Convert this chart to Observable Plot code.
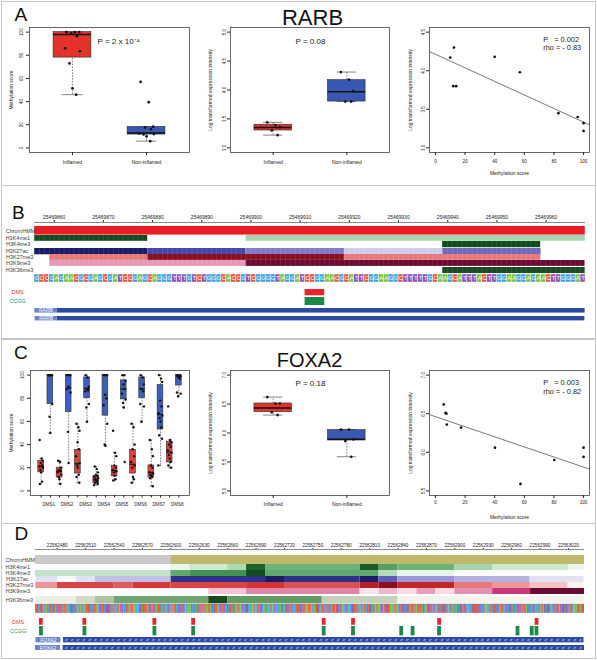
<!DOCTYPE html>
<html>
<head>
<meta charset="utf-8">
<script src="https://cdn.jsdelivr.net/npm/d3@7"></script>
<script src="https://cdn.jsdelivr.net/npm/@observablehq/plot@0.6"></script>
<style>
  html, body { margin: 0; padding: 0; background: #fff; }
  #fig { position: relative; width: 597px; height: 660px; overflow: hidden; background: #fff;
         font-family: "Liberation Sans", Arial, Helvetica, sans-serif; }
  .abs { position: absolute; }
  .abs svg { display: block; max-width: none !important; overflow: visible; }
  .abs svg text { white-space: pre; }
  .hl { position: absolute; background: #c6c6c6; }
  .letter { position: absolute; font-size: 19px; line-height: 19px; color: #111; }
</style>
</head>
<body>
<div id="fig"></div>
<script>
// ======================= DATA =======================
// ---- Panel A : RARB ----
const methGroups = ["Inflamed", "Non-inflamed"];
const rarbMethInflamed = [100, 100, 100, 99, 96.5, 86, 83.5, 73, 51.5, 46];
const rarbMethNonInflamed = [57, 39.5, 18.3, 17.7, 16.2, 12.5, 11.9, 11.6, 9.9, 5.8];
const rarbMethBoxes = [
  {lo: 46, q1: 78, med: 98, q3: 100, hi: 100},
  {lo: 5.8, q1: 11.5, med: 12.8, q3: 18, hi: 18}
];
const rarbExprInflamed = [3.44, 3.39, 3.36, 3.30, 3.22];
const rarbExprNonInflamed = [4.31, 4.18, 3.98, 3.80, 3.80];
const rarbExprBoxes = [
  {lo: 3.22, q1: 3.30, med: 3.35, q3: 3.40, hi: 3.44},
  {lo: 3.80, q1: 3.80, med: 3.97, q3: 4.17, hi: 4.31}
];
const rarbScatterMeth = [10, 12.5, 12, 14, 40, 57, 83, 96, 100, 100];
const rarbScatterExpr = [4.17, 4.30, 3.80, 3.80, 4.18, 3.98, 3.45, 3.40, 3.32, 3.22];
const rarbFit = {intercept: 4.213, slope: -0.00879};
const rarbMethP = "P = 2 x 10⁻⁴";
const rarbExprP = "P = 0.08";
const rarbCorrP = "P   = 0.002";
const rarbRho = "rho = - 0.83";

// ---- Panel B : RARB locus ----
const rarbRange = [25469856, 25469968];
const rarbAxisTicks = [25469860, 25469870, 25469880, 25469890, 25469900, 25469910, 25469920, 25469930, 25469940, 25469950, 25469960];
const rarbChromHMM = [{start: 25469856, end: 25469968, state: "TssA"}];
const rarbK4me1 = [[25469856, 25469879, 1.0], [25469899, 25469968, 0.35]];
const rarbK4me3 = [[25469939, 25469959, 1.0]];
const rarbK27ac = [[25469856, 25469879, 1.0], [25469879, 25469899, 0.72], [25469899, 25469919, 0.55], [25469919, 25469939, 0.25], [25469939, 25469959, 0.6]];
const rarbK27me3 = [[25469859, 25469879, 0.45], [25469879, 25469919, 1.0], [25469919, 25469959, 0.45]];
const rarbK9me3 = [[25469859, 25469899, 0.42], [25469899, 25469968, 1.0]];
const rarbK36me3 = [[25469939, 25469968, 1.0]];
const rarbSequence = "GCCGAGAACGCGAGCGATCCGAGCAGGGTTTGTCTGGGCACCGTCGGGGTAGGATCCGGAACGCATTCGGAAGGCTTTTTGCAAGCATTTACTTGGAAGGAGAACTTGGGAT";
const rarbDMS = [25469911];
const rarbCCGG = [25469911];
const rarbTranscripts = [{name: "RARB", start: 25469834, end: 25639422}, {name: "RARB", start: 25469834, end: 25639422}];

// ---- Panel C : FOXA2 ----
const dmsSites = ["DMS1", "DMS2", "DMS3", "DMS4", "DMS5", "DMS6", "DMS7", "DMS8"];
const foxa2RedBoxes = [
  {lo: 6, q1: 16, med: 21, q3: 26, hi: 28},
  {lo: 6, q1: 11.5, med: 17, q3: 20, hi: 26},
  {lo: 7, q1: 15, med: 23.5, q3: 35.5, hi: 58},
  {lo: 5, q1: 6.5, med: 9.5, q3: 13, hi: 21},
  {lo: 9, q1: 12.5, med: 17.5, q3: 21.5, hi: 33},
  {lo: 7, q1: 15, med: 23, q3: 35.5, hi: 58},
  {lo: 4, q1: 11.5, med: 16, q3: 22, hi: 44},
  {lo: 20, q1: 24.5, med: 33.5, q3: 42.5, hi: 44}
];
const foxa2BlueBoxes = [
  {lo: 50, q1: 75, med: 100, q3: 100, hi: 100},
  {lo: 24, q1: 68, med: 100, q3: 100, hi: 100},
  {lo: 59, q1: 80, med: 88.5, q3: 98, hi: 100},
  {lo: 39, q1: 65, med: 100, q3: 100, hi: 100},
  {lo: 72, q1: 79, med: 88, q3: 95.5, hi: 100},
  {lo: 59, q1: 80, med: 88, q3: 98, hi: 100},
  {lo: 22, q1: 53, med: 66, q3: 91.5, hi: 100},
  {lo: 81, q1: 91, med: 99, q3: 100, hi: 100}
];
const foxa2RedPoints = [
  [44, 28, 26, 24, 22, 21, 20, 18, 16, 8, 6],
  [26, 25, 20, 18, 17, 16, 14, 12, 10, 6],
  [58, 55, 52, 42, 36, 30, 24, 22, 20, 14, 12, 7],
  [21, 19, 16, 14, 13, 12, 11, 10, 9, 8, 7, 6, 5],
  [52, 33, 30, 22, 20, 18, 17, 16, 13, 10, 9],
  [58, 55, 40, 36, 30, 25, 22, 20, 12, 10, 7],
  [44, 36, 30, 22, 20, 16, 15, 14, 13, 12, 11, 4],
  [73, 44, 42, 40, 38, 35, 33, 31, 28, 25, 22, 20]
];
const foxa2BluePoints = [
  [100, 100, 100, 100, 100, 100, 75, 64, 50],
  [100, 100, 100, 90, 89, 88, 85, 51, 24],
  [100, 98, 90, 88, 87, 86, 75, 72, 60],
  [100, 100, 100, 83, 80, 74, 58, 40, 39],
  [100, 100, 95, 92, 88, 84, 79, 76, 72, 25],
  [100, 98, 92, 88, 86, 75, 73, 60],
  [100, 97, 94, 78, 73, 67, 65, 63, 60, 55, 48, 45, 22],
  [100, 100, 99, 98, 97, 85, 84, 82]
];
const foxa2ExprInflamed = [6.62, 6.51, 6.51, 6.36, 6.31];
const foxa2ExprNonInflamed = [6.06, 6.06, 5.89, 5.86, 5.59];
const foxa2ExprBoxes = [
  {lo: 6.31, q1: 6.36, med: 6.43, q3: 6.51, hi: 6.62},
  {lo: 5.59, q1: 5.87, med: 5.89, q3: 6.05, hi: 6.06}
];
const foxa2ScatterMeth = [5.6, 6.8, 7.4, 7.7, 17.3, 40.2, 57.4, 80.2, 100, 100];
const foxa2ScatterExpr = [6.62, 6.51, 6.50, 6.36, 6.32, 6.06, 5.59, 5.90, 6.06, 5.94];
const foxa2Fit = {intercept: 6.462, slope: -0.00654};
const foxa2ExprP = "P = 0.18";
const foxa2CorrP = "P   = 0.003";
const foxa2Rho = "rho = - 0.82";

// ---- Panel D : FOXA2 locus ----
const foxa2Range = [22562457, 22563037];
const foxa2AxisTicks = [22562480, 22562510, 22562540, 22562570, 22562600, 22562630, 22562660, 22562690, 22562720, 22562750, 22562780, 22562810, 22562840, 22562870, 22562900, 22562930, 22562960, 22562990, 22563020];
const foxa2ChromHMM = [{start: 22562457, end: 22562600, state: "ReprPC"}, {start: 22562600, end: 22563037, state: "EnhBiv"}];
const foxa2K4me1 = [[22562600, 22562620, 0.08], [22562620, 22562660, 0.2], [22562660, 22562680, 0.32], [22562680, 22562700, 0.92], [22562700, 22562800, 0.55], [22562800, 22562820, 0.95], [22562820, 22562840, 0.65], [22562840, 22562900, 0.55], [22562900, 22562940, 0.35], [22562940, 22563020, 0.22], [22563020, 22563037, 0.08]];
const foxa2K4me3 = [[22562457, 22562600, 0.25], [22562600, 22562620, 0.6], [22562620, 22562680, 0.72], [22562680, 22562700, 1.0], [22562700, 22562820, 0.6], [22562820, 22562840, 0.3], [22562840, 22562900, 0.1]];
const foxa2K27ac = [[22562457, 22562480, 0.15], [22562500, 22562520, 0.15], [22562520, 22562600, 0.3], [22562600, 22562700, 0.85], [22562700, 22562720, 1.0], [22562720, 22562800, 0.85], [22562800, 22562820, 1.0], [22562820, 22562840, 0.65], [22562840, 22562900, 0.45], [22562900, 22562980, 0.35], [22562980, 22563037, 0.15]];
const foxa2K27me3 = [[22562457, 22562480, 0.35], [22562480, 22562540, 0.65], [22562540, 22562560, 0.55], [22562560, 22562600, 0.7], [22562600, 22562680, 0.65], [22562680, 22562720, 0.72], [22562720, 22562800, 0.6], [22562800, 22562820, 0.85], [22562820, 22562840, 1.0], [22562840, 22562900, 0.8], [22562900, 22562940, 0.45], [22562940, 22562980, 0.35], [22562980, 22563020, 0.2], [22563020, 22563037, 0.05]];
const foxa2K9me3 = [[22562640, 22562680, 0.25], [22562680, 22562800, 0.5], [22562800, 22562820, 0.12], [22562820, 22562840, 0.3], [22562840, 22562860, 0.15], [22562860, 22562880, 0.4], [22562880, 22562900, 0.15], [22562900, 22562940, 0.45], [22562940, 22562980, 0.75], [22562980, 22563037, 1.0]];
const foxa2K36me3 = [[22562457, 22562500, 0.15], [22562500, 22562520, 0.3], [22562520, 22562540, 0.45], [22562540, 22562640, 0.65], [22562640, 22562660, 1.0], [22562660, 22562760, 0.7], [22562760, 22562840, 0.35], [22562840, 22563037, 0.1]];
const foxa2Sequence = [
  "GCCGGCTTCAGCATGTCCGCCAGCTCCTCGCCGCAGGGTGTGCCGAGCACGGAGCCCTGA",
  "TGCCCAGGTTCCTGCTCTTCGCGGCGGCCATGTAGGCGCAGCCCAAGGAGCTCATCCCCA",
  "TTTGCCTGACCCGCAGCGGGCTGGACACCGATGTGTCTGAGGAGATGGGCACTGCCGCGC",
  "CAGCCACGGTCCCAGCTCCTTGGTGCCCATTACAGCGAGTCGCTTGAGGAAGCAGTCGTT",
  "GAAGGAGAGCGAGTGGCGGATGGAGTTCTGCTGGGGCTCGTGCGCCAACCCCAGCACCTT",
  "GAGCCCGGTGCTGGCCCACTTGCTGAGGCTGGAGCTCCCGCGCAGCGGCCGTCCTGATGA",
  "ACGAATTTACTTCCCAAAGACCAGGTCCTTGCGCTCACTCGCGATCCCGATGAACTTTCC",
  "GCTAGGCCGCCCTTCGGAGTCACGGATGGTCCGCTTGAGCGCTTCTCGTCTGTGCGAAGG",
  "GCGGCCCGTGTACTCGGCTCGTTGATGGCGTTCTGCGCCACGCGGGCTGGGCGTAGCATC",
  "GCTTGAGGTCGTTCATGTTGCCTGGCCTGAAGATCCAGCT"
].join("");
const foxa2DMS = [22562461, 22562507, 22562581, 22562622, 22562760, 22562791, 22562882, 22562985];
const foxa2CCGG = [22562461, 22562507, 22562581, 22562622, 22562760, 22562791, 22562842, 22562854, 22562882, 22562965, 22562980, 22562985];
const foxa2Transcripts = [{name: "FOXA2", start: 22561642, end: 22566101}, {name: "FOXA2", start: 22561642, end: 22566101}];

// ======================= STYLE / HELPERS =======================
const FONT = "Liberation Sans, Arial, Helvetica, sans-serif";
const RED = "#e3342c", BLUE = "#3858b4";
const STYLE = {fontFamily: FONT, fontSize: "5px", background: "transparent", color: "#222", overflow: "visible"};
const JIT = [-0.08, 0.03, 0.09, -0.02, 0.06, -0.1, 0.1, -0.04, 0.0, 0.05, -0.07, 0.08, -0.12, 0.02, 0.11, -0.05];
const W = 597;
const fig = document.getElementById("fig");

function place(node, left, top, width) {
  const d = document.createElement("div");
  d.className = "abs";
  d.style.left = left + "px"; d.style.top = top + "px"; d.style.width = width + "px";
  d.appendChild(node); fig.appendChild(d); return d;
}
function hline(y) {
  const d = document.createElement("div");
  d.className = "hl"; d.style.left = "1px"; d.style.width = "595px";
  d.style.top = y + "px"; d.style.height = "1.5px"; fig.appendChild(d);
}
function letter(ch, left, top) {
  const d = document.createElement("div");
  d.className = "letter"; d.textContent = ch;
  d.style.left = left + "px"; d.style.top = top + "px"; fig.appendChild(d);
}
function pts(values, x, spread) {
  return values.map((v, i) => ({x: x + JIT[i % JIT.length] * spread, v}));
}

// generic boxplot (R style)
function boxPlot(o) {
  const dash = {stroke: "#333", strokeWidth: 0.6, strokeDasharray: "1.6,1.3"};
  const hw = o.halfW, cw = o.capW;
  const marks = [
    Plot.ruleX(o.stats, {x: "x", y1: "lo", y2: "q1", ...dash}),
    Plot.ruleX(o.stats, {x: "x", y1: "q3", y2: "hi", ...dash}),
    Plot.ruleY(o.stats, {y: "lo", x1: d => d.x - cw, x2: d => d.x + cw, stroke: "#333", strokeWidth: 0.6}),
    Plot.ruleY(o.stats, {y: "hi", x1: d => d.x - cw, x2: d => d.x + cw, stroke: "#333", strokeWidth: 0.6}),
    Plot.rect(o.stats, {x1: d => d.x - hw, x2: d => d.x + hw, y1: "q1", y2: "q3", fill: "fill", stroke: "#2a2a2a", strokeWidth: 0.6}),
    Plot.ruleY(o.stats, {y: "med", x1: d => d.x - hw, x2: d => d.x + hw, stroke: "#111", strokeWidth: o.medW}),
    Plot.dot(o.points, {x: "x", y: "v", r: o.r, fill: "#111", stroke: "none"}),
    Plot.frame({stroke: "#444", strokeWidth: 0.8}),
    Plot.axisY({ticks: o.yTicks, tickSize: 3, tickFormat: () => "", label: null}),
    Plot.text(o.yTicks, {y: d => d, frameAnchor: "left", dx: o.yTickDx, rotate: -90, text: o.yFmt, fontSize: 4.5, textAnchor: "middle", lineAnchor: "middle"}),
    Plot.text([o.yLabel], {frameAnchor: "left", dx: o.yLabelDx, rotate: -90, fontSize: 5, textAnchor: "middle", lineAnchor: "middle"}),
    ...o.xAxes,
    ...(o.extra || [])
  ];
  const svg = Plot.plot({
    width: o.width, height: o.height,
    marginLeft: o.mL, marginRight: o.mR, marginTop: o.mT, marginBottom: o.mB,
    x: {domain: o.xDomain, axis: null, label: null}, y: {domain: o.yDomain, axis: null, label: null},
    color: {type: "identity"},
    style: STYLE,
    marks
  });
  place(svg, o.left, o.top, o.width);
}

function scatterPlot(o) {
  const fitPts = o.xDomain.map(x => ({x, y: o.fit.intercept + o.fit.slope * x}));
  const data = o.xs.map((x, i) => ({x, y: o.ys[i]}));
  const svg = Plot.plot({
    width: o.width, height: o.height,
    marginLeft: o.mL, marginRight: o.mR, marginTop: o.mT, marginBottom: o.mB,
    x: {domain: o.xDomain, axis: null, label: null}, y: {domain: o.yDomain, axis: null, label: null},
    style: STYLE,
    marks: [
      Plot.line(fitPts, {x: "x", y: "y", stroke: "#555", strokeWidth: 0.8}),
      Plot.dot(data, {x: "x", y: "y", r: 1.35, fill: "#111", stroke: "none"}),
      Plot.frame({stroke: "#444", strokeWidth: 0.8}),
      Plot.axisX({ticks: [0, 20, 40, 60, 80, 100], tickSize: 3, tickPadding: o.xPad, fontSize: 4.5, label: null}),
      Plot.axisY({ticks: o.yTicks, tickSize: 3, tickFormat: () => "", label: null}),
      Plot.text(o.yTicks, {y: d => d, frameAnchor: "left", dx: o.yTickDx, rotate: -90, text: d3.format(".1f"), fontSize: 4.5, textAnchor: "middle", lineAnchor: "middle"}),
      Plot.text(["Log transformed expression intensity"], {frameAnchor: "left", dx: o.yLabelDx, rotate: -90, fontSize: 5, textAnchor: "middle", lineAnchor: "middle"}),
      Plot.text(["Methylation score"], {frameAnchor: "bottom", dy: o.xLabelDy, fontSize: 5, textAnchor: "middle", lineAnchor: "middle"}),
      Plot.text([o.stat1], {frameAnchor: "top-left", dx: o.statDx, dy: o.statDy1, fontSize: 7.4, textAnchor: "start", lineAnchor: "middle"}),
      Plot.text([o.stat2], {frameAnchor: "top-left", dx: o.statDx, dy: o.statDy2, fontSize: 7.4, textAnchor: "start", lineAnchor: "middle"})
    ]
  });
  place(svg, o.left, o.top, o.width);
}

// genome-browser helpers
function track(o) {
  const marks = [...o.marks];
  if (o.label) marks.push(Plot.text([o.label], {frameAnchor: "left", dx: o.labelDx, textAnchor: o.labelAnchor || "start", lineAnchor: "middle", fill: o.labelColor || "#3a3a3a", fontSize: 5.5}));
  const svg = Plot.plot({
    width: W, height: o.height,
    marginLeft: o.mL, marginRight: o.mR, marginTop: 0, marginBottom: 0,
    x: {domain: o.domain, axis: null, label: null},
    color: o.color || {type: "identity"},
    style: STYLE,
    marks
  });
  place(svg, 0, o.top, W);
  return svg;
}
const segs = arr => arr.map(([start, end, level]) => ({start, end, level}));
const STOPS = [0, 0.25, 0.5, 0.75, 1];
const PAL = {
  green: ["#ffffff", "#c4e4c7", "#78bb84", "#3b8e4b", "#0f4d1e"],
  blue: ["#ffffff", "#cfcdec", "#8f89d0", "#3c3da6", "#1b1b66"],
  red: ["#ffffff", "#f3b3b3", "#e56a6a", "#d22a2a", "#8a0f1c"],
  magenta: ["#ffffff", "#f3c3d4", "#df85a8", "#c8387a", "#6a0a32"],
  olive: ["#ffffff", "#dde2d0", "#9dbb96", "#559455", "#1a4a20"]
};
const HMM = {domain: ["TssA", "EnhBiv", "ReprPC"], range: ["#ec1c24", "#bfb96a", "#c9c9c9"]};
const BASES = {domain: ["A", "C", "G", "T"], range: ["#7cc242", "#e8573f", "#41a0dd", "#8e57b5"]};

function heat(L, top, h, data, pal, label, grid) {
  track({top, height: h, domain: L.domain, mL: L.mL, mR: L.mR, label, labelDx: L.labelDx,
    color: {type: "linear", domain: STOPS, range: PAL[pal]},
    marks: [
      Plot.rect(segs(data), {x1: "start", x2: "end", fill: "level"}),
      grid ? Plot.gridX({ticks: 120, stroke: "#fff", strokeOpacity: 0.2, strokeWidth: 0.5}) : null
    ]});
}
function genomeAxis(L, top, ticks, fs, tickSize) {
  const svg = Plot.plot({
    width: W, height: 17, marginLeft: L.mL, marginRight: L.mR, marginTop: 16, marginBottom: 1,
    x: {domain: L.domain, axis: null, label: null}, style: STYLE,
    marks: [Plot.axisX({anchor: "top", ticks, tickFormat: d3.format("d"), tickSize, tickPadding: 0.3, fontSize: fs, label: null})]
  });
  place(svg, 0, top, W);
  const line = document.createElement("div");
  line.className = "hl";
  line.style.left = L.mL + "px"; line.style.width = (W - L.mL - L.mR) + "px";
  line.style.top = (top + 16) + "px"; line.style.height = "1px"; line.style.background = "#8a8a8a";
  fig.appendChild(line);
}
function seqTrack(L, top, h, seq, letters) {
  const [d0, d1] = L.domain;
  const data = seq.slice(0, d1 - d0).split("").map((b, i) => ({pos: d0 + i, base: b}));
  track({top, height: h, domain: L.domain, mL: L.mL, mR: L.mR, color: BASES,
    marks: [
      Plot.rect(data, {x1: "pos", x2: d => d.pos + 1, fill: "base", stroke: letters ? "#fff" : "base", strokeWidth: letters ? 0.4 : 0.25}),
      letters ? Plot.text(data, {x: d => d.pos + 0.5, text: "base", fill: "#fff", fontSize: 6, lineAnchor: "middle"}) : null
    ]});
}
function siteTrack(L, top, h, sites, fill, label, labelColor) {
  track({top, height: h, domain: L.domain, mL: L.mL, mR: L.mR, label, labelColor, labelDx: L.siteDx, labelAnchor: "middle",
    marks: [Plot.rect(sites, {x1: d => d, x2: d => d + 4, fill})]});
}
function geneTrack(L, top, h, gene, labelBp, gapBp, chevrons) {
  const [d0, d1] = L.domain;
  const lab = [{x1: d0, x2: d0 + labelBp, name: gene.name}];
  const bar = [{x1: Math.max(gene.start, d0) + labelBp + gapBp, x2: Math.min(gene.end, d1)}];
  const svg = track({top, height: h, domain: L.domain, mL: L.mL, mR: L.mR,
    marks: [
      Plot.rect(bar, {x1: "x1", x2: "x2", fill: "#2a4aa6"}),
      Plot.rect(lab, {x1: "x1", x2: "x2", fill: "#6a86cc"}),
      Plot.text(lab, {x: d => (d.x1 + d.x2) / 2, text: "name", fill: "#fff", fontSize: 5, lineAnchor: "middle"}),
      chevrons ? Plot.text(bar, {x: "x1", text: () => "<".repeat(91), dx: 1.5, textAnchor: "start", fill: "#e3e9f7", fontSize: 5.2, lineAnchor: "middle"}) : null
    ]});
  if (chevrons) svg.querySelectorAll("text").forEach(t => { if (t.textContent.startsWith("<<")) t.style.letterSpacing = "2.75px"; });
}

// ======================= FRAME =======================
const outer = document.createElement("div");
outer.style.cssText = "position:absolute;left:1px;top:1px;width:595px;height:658px;border:1.5px solid #c6c6c6;box-sizing:border-box;";
fig.appendChild(outer);
hline(184.5); hline(338.3); hline(522.6);

// ======================= PANEL A =======================
letter("A", 14.5, 4.8);
boxPlot({
  left: 0, top: 0, width: 197, height: 185, mL: 29, mR: 8, mT: 27, mB: 33,
  xDomain: [0.42, 2.58], yDomain: [-4, 104],
  stats: rarbMethBoxes.map((s, i) => ({...s, x: i + 1, fill: [RED, BLUE][i]})),
  points: [...pts(rarbMethInflamed, 1, 1), ...pts(rarbMethNonInflamed, 2, 1)],
  halfW: 0.255, capW: 0.14, medW: 1.5, r: 1.35,
  yTicks: [0, 20, 40, 60, 80, 100], yFmt: d3.format("d"), yTickDx: -8,
  yLabel: "Methylation score", yLabelDx: -18,
  xAxes: [Plot.axisX({ticks: [1, 2], tickFormat: i => methGroups[i - 1], tickSize: 3, tickPadding: 4.5, fontSize: 5, label: null})],
  extra: [Plot.text([rarbMethP], {frameAnchor: "top-left", dx: 68, dy: 13.7, fontSize: 8, textAnchor: "start", lineAnchor: "middle"})]
});
boxPlot({
  left: 197, top: 0, width: 198, height: 185, mL: 33, mR: 6, mT: 27, mB: 33,
  xDomain: [0.42, 2.58], yDomain: [2.92, 5.08],
  stats: rarbExprBoxes.map((s, i) => ({...s, x: i + 1, fill: [RED, BLUE][i]})),
  points: [...pts(rarbExprInflamed, 1, 1), ...pts(rarbExprNonInflamed, 2, 1)],
  halfW: 0.255, capW: 0.13, medW: 1.5, r: 1.35,
  yTicks: [3, 3.5, 4, 4.5, 5], yFmt: d3.format(".1f"), yTickDx: -5.5,
  yLabel: "Log transformed expression intensity", yLabelDx: -20,
  xAxes: [Plot.axisX({ticks: [1, 2], tickFormat: i => methGroups[i - 1], tickSize: 3, tickPadding: 4.5, fontSize: 5, label: null})],
  extra: [
    Plot.text([rarbExprP], {frameAnchor: "top-left", dx: 65, dy: 13.7, fontSize: 8, textAnchor: "start", lineAnchor: "middle"}),
    Plot.text(["RARB"], {frameAnchor: "top", dx: 2.5, dy: -3, fontSize: 22, textAnchor: "middle", lineAnchor: "bottom", fill: "#111"})
  ]
});
scatterPlot({
  left: 395, top: 0, width: 200, height: 185, mL: 34, mR: 6, mT: 27, mB: 33,
  xDomain: [-4, 104], yDomain: [2.94, 4.56], yTicks: [3, 3.5, 4, 4.5],
  xs: rarbScatterMeth, ys: rarbScatterExpr, fit: rarbFit,
  xPad: 4.5, yTickDx: -5.5, yLabelDx: -19, xLabelDy: 21,
  stat1: rarbCorrP, stat2: rarbRho, statDx: 113.7, statDy1: 12, statDy2: 20.5
});

// ======================= PANEL B =======================
letter("B", 12, 202.5);
const LB = {domain: rarbRange, mL: 34, mR: 12, labelDx: -29, siteDx: -17};
genomeAxis(LB, 206, rarbAxisTicks, 5, 3);
track({top: 225.7, height: 8.6, domain: LB.domain, mL: LB.mL, mR: LB.mR, label: "ChromHMM", labelDx: LB.labelDx,
  color: HMM, marks: [Plot.rect(rarbChromHMM, {x1: "start", x2: "end", fill: "state"})]});
heat(LB, 235, 5.8, rarbK4me1, "green", "H3K4me1", true);
heat(LB, 241, 6.2, rarbK4me3, "green", "H3K4me3", true);
heat(LB, 247.6, 6.3, rarbK27ac, "blue", "H3K27ac", true);
heat(LB, 254.2, 5.9, rarbK27me3, "red", "H3K27me3", true);
heat(LB, 260.2, 5.9, rarbK9me3, "magenta", "H3K9me3", true);
heat(LB, 266.7, 6.1, rarbK36me3, "olive", "H3K36me3", true);
seqTrack(LB, 274, 8, rarbSequence, true);
siteTrack(LB, 288.7, 6.3, rarbDMS, "#e8262c", "DMS", "#d9353a");
siteTrack(LB, 297.3, 8, rarbCCGG, "#1b8a47", "CCGG", "#2f9a52");
geneTrack(LB, 307.7, 4.6, rarbTranscripts[0], 4.5, 0, false);
geneTrack(LB, 315.7, 4.4, rarbTranscripts[1], 4.5, 0, false);

// ======================= PANEL C =======================
letter("C", 14, 342.5);
boxPlot({
  left: 0, top: 339, width: 197, height: 184, mL: 30, mR: 8, mT: 31, mB: 28,
  xDomain: [-0.16, 17.16], yDomain: [-4, 104],
  stats: [
    ...foxa2RedBoxes.map((s, k) => ({...s, x: 2 * k + 1, fill: "#e0413d"})),
    ...foxa2BlueBoxes.map((s, k) => ({...s, x: 2 * k + 2, fill: "#3d5fbf"}))
  ],
  points: [
    ...foxa2RedPoints.flatMap((vals, k) => pts(vals, 2 * k + 1, 2)),
    ...foxa2BluePoints.flatMap((vals, k) => pts(vals, 2 * k + 2, 2))
  ],
  halfW: 0.31, capW: 0.15, medW: 1.1, r: 1.2,
  yTicks: [0, 20, 40, 60, 80, 100], yFmt: d3.format("d"), yTickDx: -8,
  yLabel: "Methylation score", yLabelDx: -19,
  xAxes: [
    Plot.axisX({ticks: d3.range(1, 17), tickSize: 2.5, tickFormat: () => "", label: null}),
    Plot.axisX({ticks: dmsSites.map((_, k) => 2 * k + 1.82), tickSize: 0, tickPadding: 7.5, fontSize: 4.5, label: null,
      tickFormat: t => dmsSites[Math.round((t - 1.82) / 2)]})
  ]
});
boxPlot({
  left: 197, top: 339, width: 198, height: 184, mL: 33, mR: 6, mT: 31, mB: 28,
  xDomain: [0.42, 2.58], yDomain: [4.92, 7.08],
  stats: foxa2ExprBoxes.map((s, i) => ({...s, x: i + 1, fill: [RED, BLUE][i]})),
  points: [...pts(foxa2ExprInflamed, 1, 1), ...pts(foxa2ExprNonInflamed, 2, 1)],
  halfW: 0.255, capW: 0.13, medW: 1.5, r: 1.35,
  yTicks: [5, 5.5, 6, 6.5, 7], yFmt: d3.format(".1f"), yTickDx: -5.5,
  yLabel: "Log transformed expression intensity", yLabelDx: -20,
  xAxes: [Plot.axisX({ticks: [1, 2], tickFormat: i => methGroups[i - 1], tickSize: 3, tickPadding: 3.5, fontSize: 5, label: null})],
  extra: [
    Plot.text([foxa2ExprP], {frameAnchor: "top-left", dx: 65, dy: 13.3, fontSize: 8, textAnchor: "start", lineAnchor: "middle"}),
    Plot.text(["FOXA2"], {frameAnchor: "top", dx: -0.5, dy: -3.3, fontSize: 20, textAnchor: "middle", lineAnchor: "bottom", fill: "#111"})
  ]
});
scatterPlot({
  left: 395, top: 339, width: 200, height: 184, mL: 34, mR: 6, mT: 31, mB: 28,
  xDomain: [-4, 104], yDomain: [5.44, 7.06], yTicks: [5.5, 6, 6.5, 7],
  xs: foxa2ScatterMeth, ys: foxa2ScatterExpr, fit: foxa2Fit,
  xPad: 2.5, yTickDx: -5.5, yLabelDx: -19, xLabelDy: 22,
  stat1: foxa2CorrP, stat2: foxa2Rho, statDx: 113.7, statDy1: 12.2, statDy2: 20.7
});

// ======================= PANEL D =======================
letter("D", 14.5, 524.2);
const LD = {domain: foxa2Range, mL: 35, mR: 13, labelDx: -30, siteDx: -17.5};
genomeAxis(LD, 533, foxa2AxisTicks, 4.7, 2);
track({top: 555, height: 9, domain: LD.domain, mL: LD.mL, mR: LD.mR, label: "ChromHMM", labelDx: LD.labelDx,
  color: HMM, marks: [Plot.rect(foxa2ChromHMM, {x1: "start", x2: "end", fill: "state"})]});
heat(LD, 564, 6, foxa2K4me1, "green", "H3K4me1", false);
heat(LD, 570, 6, foxa2K4me3, "green", "H3K4me3", false);
heat(LD, 576, 6.2, foxa2K27ac, "blue", "H3K27ac", false);
heat(LD, 582.2, 6.1, foxa2K27me3, "red", "H3K27me3", false);
heat(LD, 588.3, 6, foxa2K9me3, "magenta", "H3K9me3", false);
heat(LD, 595.5, 7.3, foxa2K36me3, "olive", "H3K36me3", false);
seqTrack(LD, 604, 8.8, foxa2Sequence, false);
siteTrack(LD, 617.6, 6.8, foxa2DMS, "#e8262c", "DMS", "#d9353a");
siteTrack(LD, 625.7, 9.4, foxa2CCGG, "#1b8a47", "CCGG", "#2f9a52");
geneTrack(LD, 636.6, 5.4, foxa2Transcripts[0], 26.4, 2.8, true);
geneTrack(LD, 644.5, 5, foxa2Transcripts[1], 26.4, 2.8, true);
</script>
</body>
</html>
